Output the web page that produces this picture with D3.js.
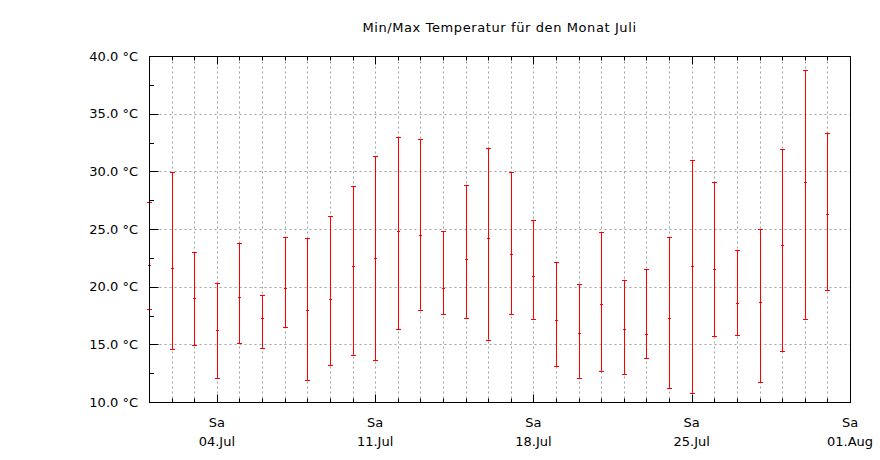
<!DOCTYPE html>
<html>
<head>
<meta charset="utf-8">
<script src="https://cdn.jsdelivr.net/npm/d3@7"></script>
<style>
  body { margin: 0; background: #fff; }
  svg { display: block; font-family: "DejaVu Sans", sans-serif; }
</style>
</head>
<body>
<svg id="chart"></svg>
<script>
const width = 880;
const height = 460;
const margin = { top: 56, right: 30, bottom: 58, left: 149 };

// data (day of July, min / mean / max in °C)
const days = [1, 2, 3, 4, 5, 6, 7, 8, 9, 10, 11, 12, 13, 14, 15, 16,
  17, 18, 19, 20, 21, 22, 23, 24, 25, 26, 27, 28, 29, 30, 31];
const minTemp = [18.1, 14.6, 14.9, 12.1, 15.1, 14.7, 16.5, 11.9, 13.2, 14.1, 13.6, 16.3, 18.0, 17.6, 17.3, 15.4,
  17.6, 17.2, 13.1, 12.1, 12.7, 12.4, 13.8, 11.2, 10.8, 15.7, 15.8, 11.7, 14.4, 17.2, 19.7];
const meanTemp = [21.9, 21.6, 19.0, 16.2, 19.1, 17.3, 19.9, 18.0, 18.9, 21.8, 22.5, 24.8, 24.5, 19.9, 22.4, 24.2,
  22.8, 20.9, 17.1, 16.0, 18.5, 16.3, 15.9, 17.3, 21.8, 21.5, 18.6, 18.7, 23.6, 29.1, 26.3];
const maxTemp = [27.3, 29.9, 23.0, 20.3, 23.8, 19.3, 24.3, 24.2, 26.1, 28.7, 31.3, 33.0, 32.8, 24.8, 28.8, 32.0,
  29.9, 25.8, 22.1, 20.2, 24.7, 20.6, 21.5, 24.3, 31.0, 29.1, 23.2, 25.0, 31.9, 38.8, 33.3];

const yMajorTicks = [10, 15, 20, 25, 30, 35, 40];
const yMinorTicks = [12.5, 17.5, 22.5, 27.5, 32.5, 37.5];
const chartTitle = "Min/Max Temperatur für den Monat Juli";

const de = d3.timeFormatLocale({
  dateTime: "%A, %e. %B %Y, %X",
  date: "%d.%m.%Y",
  time: "%H:%M:%S",
  periods: ["AM", "PM"],
  days: ["Sonntag", "Montag", "Dienstag", "Mittwoch", "Donnerstag", "Freitag", "Samstag"],
  shortDays: ["So", "Mo", "Di", "Mi", "Do", "Fr", "Sa"],
  months: ["Januar", "Februar", "März", "April", "Mai", "Juni", "Juli", "August",
    "September", "Oktober", "November", "Dezember"],
  shortMonths: ["Jan", "Feb", "Mär", "Apr", "Mai", "Jun", "Jul", "Aug", "Sep", "Okt", "Nov", "Dez"],
});
const fmtDay = de.format("%a");
const fmtDate = de.format("%d.%b");

const data = days.map((d, i) => ({
  date: new Date(2015, 6, d),
  min: minTemp[i],
  mean: meanTemp[i],
  max: maxTemp[i],
}));

const svg = d3.select("#chart").attr("width", width).attr("height", height);

const x = d3
  .scaleTime()
  .domain([new Date(2015, 6, 1), new Date(2015, 7, 1)])
  .range([margin.left, width - margin.right]);
const y = d3
  .scaleLinear()
  .domain([10, 40])
  .range([height - margin.bottom, margin.top]);

// crisp 1px lines
const px = (d) => Math.round(x(d)) + 0.5;
const py = (v) => Math.round(y(v)) + 0.5;

const x0 = margin.left + 0.5;
const x1 = width - margin.right + 0.5;
const y0 = margin.top + 0.5;
const y1 = height - margin.bottom + 0.5;

const allDays = d3.timeDay.range(new Date(2015, 6, 1), new Date(2015, 7, 2));
const saturdays = d3.timeSaturday.range(new Date(2015, 6, 1), new Date(2015, 7, 2));

// grid
const grid = svg
  .append("g")
  .attr("stroke", "#a0a0a0")
  .attr("stroke-width", 1)
  .attr("stroke-dasharray", "2,3");

grid
  .selectAll("line.vx")
  .data(allDays.slice(1, -1))
  .join("line")
  .attr("class", "vx")
  .attr("x1", px)
  .attr("x2", px)
  .attr("y1", y0)
  .attr("y2", y1);

grid
  .selectAll("line.hy")
  .data(yMajorTicks.slice(1, -1))
  .join("line")
  .attr("class", "hy")
  .attr("x1", x0)
  .attr("x2", x1)
  .attr("y1", py)
  .attr("y2", py);

// error bars
const bars = svg
  .append("g")
  .attr("stroke", "#ff0000")
  .attr("stroke-width", 1)
  .selectAll("g")
  .data(data)
  .join("g")
  .attr("transform", (d) => `translate(${px(d.date)},0)`);

bars
  .append("line")
  .attr("y1", (d) => y(d.min))
  .attr("y2", (d) => y(d.max));

bars
  .append("line")
  .attr("x1", -2.5)
  .attr("x2", 2.5)
  .attr("y1", (d) => py(d.min))
  .attr("y2", (d) => py(d.min));

bars
  .append("line")
  .attr("x1", -2.5)
  .attr("x2", 2.5)
  .attr("y1", (d) => py(d.max))
  .attr("y2", (d) => py(d.max));

bars
  .append("line")
  .attr("x1", -1.5)
  .attr("x2", 1.5)
  .attr("y1", (d) => py(d.mean))
  .attr("y2", (d) => py(d.mean));

// ticks
const ticks = svg.append("g").attr("stroke", "#000").attr("stroke-width", 1);

function xTicks(cls, dates, yStart, len) {
  ticks
    .selectAll("line." + cls)
    .data(dates)
    .join("line")
    .attr("class", cls)
    .attr("x1", px)
    .attr("x2", px)
    .attr("y1", yStart)
    .attr("y2", yStart + len);
}
xTicks("xminor", allDays, y1, -4);
xTicks("xminortop", allDays, y0, 4);
xTicks("xmajor", saturdays, y1, -8);
xTicks("xmajortop", saturdays, y0, 8);

ticks
  .selectAll("line.ymajor")
  .data(yMajorTicks)
  .join("line")
  .attr("class", "ymajor")
  .attr("x1", x0)
  .attr("x2", x0 + 9)
  .attr("y1", py)
  .attr("y2", py);
ticks
  .selectAll("line.yminor")
  .data(yMinorTicks)
  .join("line")
  .attr("class", "yminor")
  .attr("x1", x0)
  .attr("x2", x0 + 4.5)
  .attr("y1", py)
  .attr("y2", py);

// border
svg
  .append("rect")
  .attr("x", x0)
  .attr("y", y0)
  .attr("width", x1 - x0)
  .attr("height", y1 - y0)
  .attr("fill", "none")
  .attr("stroke", "#000")
  .attr("stroke-width", 1);

// labels
svg
  .append("g")
  .attr("font-size", "13px")
  .attr("fill", "#000")
  .attr("text-anchor", "end")
  .selectAll("text")
  .data(yMajorTicks)
  .join("text")
  .attr("x", margin.left - 11)
  .attr("y", (d) => y(d))
  .attr("dy", "0.36em")
  .text((d) => `${d.toFixed(1)} °C`);

const xl = svg
  .append("g")
  .attr("font-size", "13px")
  .attr("fill", "#000")
  .attr("text-anchor", "middle")
  .selectAll("g")
  .data(saturdays)
  .join("g");
xl.append("text")
  .attr("x", (d) => x(d))
  .attr("y", y1 + 24)
  .text((d) => fmtDay(d));
xl.append("text")
  .attr("x", (d) => x(d))
  .attr("y", y1 + 43)
  .text((d) => fmtDate(d));

svg
  .append("text")
  .attr("x", (margin.left + width - margin.right) / 2)
  .attr("y", 32)
  .attr("text-anchor", "middle")
  .attr("font-size", "13px")
  .attr("letter-spacing", "0.6px")
  .attr("fill", "#000")
  .text(chartTitle);
</script>
</body>
</html>
